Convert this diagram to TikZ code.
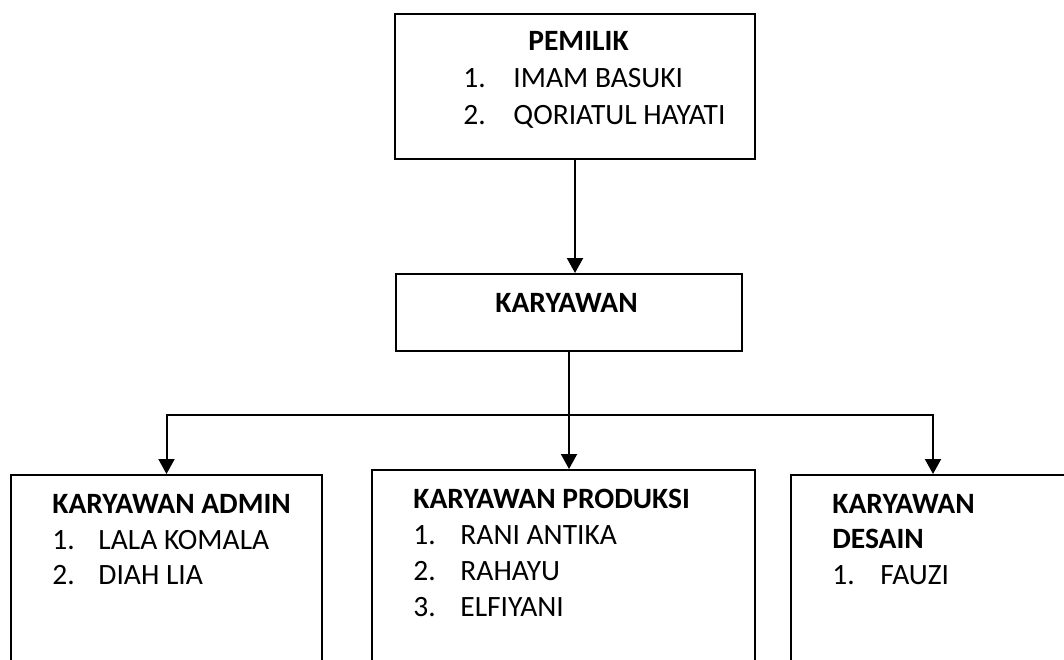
\documentclass[tikz,border=0pt]{standalone}
\usepackage{fontspec}
\setmainfont{Carlito}
\usetikzlibrary{arrows.meta,calc}

\begin{document}
\begin{tikzpicture}[x=0.5pt,y=-0.5pt,
  kotak/.style={draw=black, line width=1pt, anchor=north west, inner sep=0pt},
  tulisan/.style={anchor=base west, inner sep=0pt, font=\fontsize{14.75}{18}\selectfont},
  judul/.style={tulisan, font=\fontsize{14.75}{18}\selectfont\bfseries},
  panah/.style={black, line width=1pt, -{Triangle[width=8pt,length=7.5pt]}}]
\useasboundingbox (0,0) rectangle (1064,659);
\clip (0,0) rectangle (1064,659);
\node [kotak, minimum width=180pt, minimum height=72.5pt] (pemilik) at (394,13) {};
\node [kotak, minimum width=173pt, minimum height=38.5pt] (karyawan) at (395,273) {};
\node [kotak, minimum width=155.5pt, minimum height=120pt] (admin) at (10,474) {};
\node [kotak, minimum width=191.5pt, minimum height=120pt] (produksi) at (371,469) {};
\node [kotak, minimum width=142pt, minimum height=120pt] (desain) at (790,474) {};
%pemilik
\node [judul] (pemilik-judul) at (528,50) {PEMILIK};
\node [tulisan] (pemilik-n1) at (463,87) {1.};
\node [tulisan] (pemilik-1) at (513,87) {IMAM BASUKI};
\node [tulisan] (pemilik-n2) at (463,124) {2.};
\node [tulisan] (pemilik-2) at (513,124) {QORIATUL HAYATI};
%karyawan
\node [judul] (karyawan-judul) at (495,312) {KARYAWAN};
%admin
\node [judul] (admin-judul) at (52,513) {KARYAWAN ADMIN};
\node [tulisan] (admin-n1) at (52,549) {1.};
\node [tulisan] (admin-1) at (98,549) {LALA KOMALA};
\node [tulisan] (admin-n2) at (52,584) {2.};
\node [tulisan] (admin-2) at (98,584) {DIAH LIA};
%produksi
\node [judul] (produksi-judul) at (413,508) {KARYAWAN PRODUKSI};
\node [tulisan] (produksi-n1) at (413,544) {1.};
\node [tulisan] (produksi-1) at (460,544) {RANI ANTIKA};
\node [tulisan] (produksi-n2) at (413,580) {2.};
\node [tulisan] (produksi-2) at (460,580) {RAHAYU};
\node [tulisan] (produksi-n3) at (413,616) {3.};
\node [tulisan] (produksi-3) at (460,616) {ELFIYANI};
%desain
\node [judul] (desain-judul) at (832,513) {KARYAWAN};
\node [judul] (desain-judul2) at (832,548) {DESAIN};
\node [tulisan] (desain-n1) at (832,584) {1.};
\node [tulisan] (desain-1) at (880,584) {FAUZI};
%garis
\coordinate (cabang) at (karyawan.south |- 0,415);
\draw [panah] (pemilik.south) -- (pemilik.south |- karyawan.north);
\draw [panah] (karyawan.south) -- (karyawan.south |- produksi.north);
\draw [panah] (cabang) -| (admin.north);
\draw [panah] (cabang) -| (desain.north);
\end{tikzpicture}
\end{document}
